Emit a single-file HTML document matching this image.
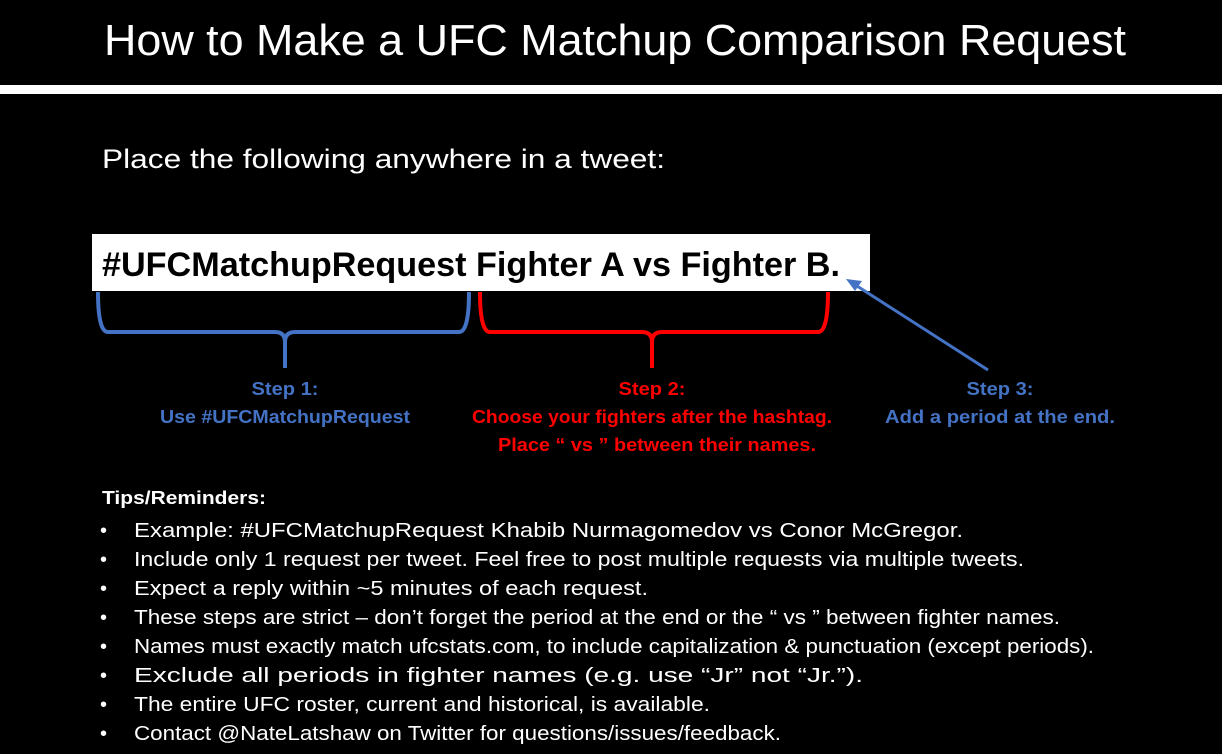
<!DOCTYPE html>
<html><head><meta charset="utf-8"><style>html,body{margin:0;padding:0;background:#000;}svg{display:block}</style></head>
<body>
<svg width="1222" height="754" viewBox="0 0 1222 754" xmlns="http://www.w3.org/2000/svg" font-family="Liberation Sans, sans-serif">
<rect width="1222" height="754" fill="#000"/>
<rect x="0" y="85" width="1222" height="9" fill="#fff"/>
<text x="104" y="55" font-size="44" fill="#fff" textLength="1022" lengthAdjust="spacingAndGlyphs">How to Make a UFC Matchup Comparison Request</text>
<text x="102" y="168" font-size="27" fill="#fff" textLength="563" lengthAdjust="spacingAndGlyphs">Place the following anywhere in a tweet:</text>
<rect x="92" y="234" width="778" height="57" fill="#fff"/>
<text x="102" y="276" font-size="34" font-weight="bold" fill="#000" textLength="738" lengthAdjust="spacingAndGlyphs">#UFCMatchupRequest Fighter A vs Fighter B.</text>
<path d="M98 292 Q98 332 108 332 L275 332 Q285 332 285 342 L285 368 M285 342 Q285 332 295 332 L459 332 Q469 332 469 292" fill="none" stroke="#4472C4" stroke-width="4"/>
<path d="M480 292 Q480 332 490 332 L642 332 Q652 332 652 342 L652 368 M652 342 Q652 332 662 332 L818 332 Q828 332 828 292" fill="none" stroke="#FF0000" stroke-width="4"/>
<line x1="988" y1="370" x2="857" y2="286" stroke="#4472C4" stroke-width="3"/>
<polygon points="846,279 862,281 855,291" fill="#4472C4"/>
<g font-weight="bold" font-size="18" text-anchor="middle">
<text x="285" y="395" fill="#4472C4" textLength="67" lengthAdjust="spacingAndGlyphs">Step 1:</text>
<text x="285" y="423" fill="#4472C4" textLength="250" lengthAdjust="spacingAndGlyphs">Use #UFCMatchupRequest</text>
<text x="652" y="395" fill="#FF0000" textLength="67" lengthAdjust="spacingAndGlyphs">Step 2:</text>
<text x="652" y="423" fill="#FF0000" textLength="360" lengthAdjust="spacingAndGlyphs">Choose your fighters after the hashtag.</text>
<text x="657" y="451" fill="#FF0000" textLength="318" lengthAdjust="spacingAndGlyphs">Place “ vs ” between their names.</text>
<text x="1000" y="395" fill="#4472C4" textLength="67" lengthAdjust="spacingAndGlyphs">Step 3:</text>
<text x="1000" y="423" fill="#4472C4" textLength="230" lengthAdjust="spacingAndGlyphs">Add a period at the end.</text>
</g>
<text x="102" y="504" font-size="18" font-weight="bold" fill="#fff" textLength="164" lengthAdjust="spacingAndGlyphs">Tips/Reminders:</text>
<g font-size="20" fill="#fff">
<text x="100" y="537">•</text><text x="134" y="537" textLength="829" lengthAdjust="spacingAndGlyphs">Example: #UFCMatchupRequest Khabib Nurmagomedov vs Conor McGregor.</text>
<text x="100" y="566">•</text><text x="134" y="566" textLength="890" lengthAdjust="spacingAndGlyphs">Include only 1 request per tweet. Feel free to post multiple requests via multiple tweets.</text>
<text x="100" y="595">•</text><text x="134" y="595" textLength="514" lengthAdjust="spacingAndGlyphs">Expect a reply within ~5 minutes of each request.</text>
<text x="100" y="624">•</text><text x="134" y="624" textLength="926" lengthAdjust="spacingAndGlyphs">These steps are strict – don’t forget the period at the end or the “ vs ” between fighter names.</text>
<text x="100" y="653">•</text><text x="134" y="653" textLength="960" lengthAdjust="spacingAndGlyphs">Names must exactly match ufcstats.com, to include capitalization &amp; punctuation (except periods).</text>
<text x="100" y="682">•</text><text x="134" y="682" textLength="729" lengthAdjust="spacingAndGlyphs">Exclude all periods in fighter names (e.g. use “Jr” not “Jr.”).</text>
<text x="100" y="711">•</text><text x="134" y="711" textLength="576" lengthAdjust="spacingAndGlyphs">The entire UFC roster, current and historical, is available.</text>
<text x="100" y="740">•</text><text x="134" y="740" textLength="647" lengthAdjust="spacingAndGlyphs">Contact @NateLatshaw on Twitter for questions/issues/feedback.</text>
</g>
</svg>
</body></html>
